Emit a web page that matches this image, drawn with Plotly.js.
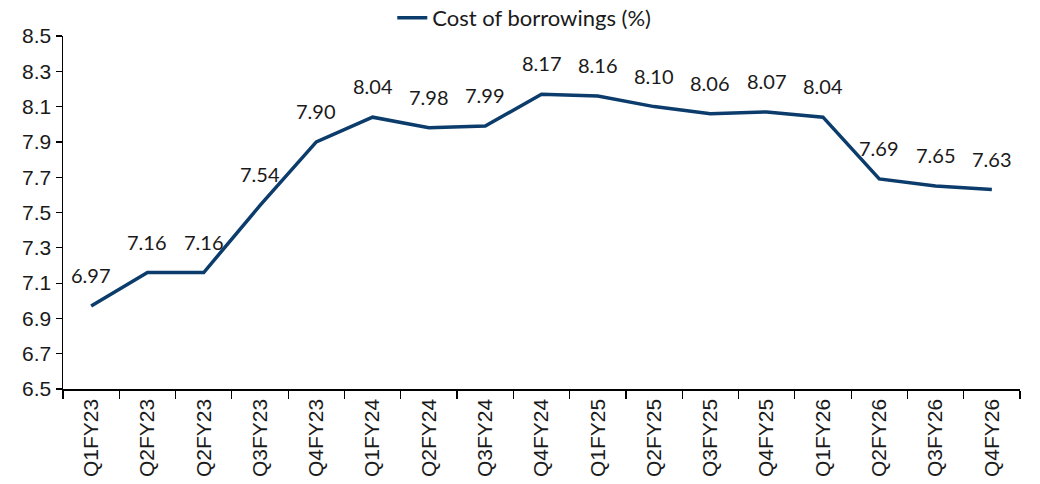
<!DOCTYPE html>
<html>
<head>
<meta charset="utf-8">
<script src="https://cdn.plot.ly/plotly-3.0.1.min.js"></script>
<style>html,body{margin:0;padding:0;background:#fff}#chart{width:1040px;height:484px}</style>
</head>
<body>
<div id="chart"></div>
<script>
const categories = ["Q1FY23","Q2FY23","Q2FY23","Q3FY23","Q4FY23","Q1FY24","Q2FY24","Q3FY24","Q4FY24","Q1FY25","Q2FY25","Q3FY25","Q4FY25","Q1FY26","Q2FY26","Q3FY26","Q4FY26"];
const costOfBorrowings = [6.97,7.16,7.16,7.54,7.90,8.04,7.98,7.99,8.17,8.16,8.10,8.06,8.07,8.04,7.69,7.65,7.63];
const seriesName = "Cost of borrowings (%)";
const yTicks = [6.5,6.7,6.9,7.1,7.3,7.5,7.7,7.9,8.1,8.3,8.5];

const idx = categories.map((_, i) => i);
const lineColor = "#0b3c6b";

const trace = {
  x: idx,
  y: costOfBorrowings,
  type: "scatter",
  mode: "lines",
  name: seriesName,
  line: {color: lineColor, width: 3.5},
  hoverinfo: "skip"
};

const annotations = costOfBorrowings.map((v, i) => ({
  x: i, y: v, xref: "x", yref: "y",
  text: v.toFixed(2), showarrow: false, yshift: 31,
  font: {family: "Lato, 'Noto Sans', sans-serif", size: 20, color: "#1a1a1a"}
}));

const layout = {
  width: 1040, height: 484,
  margin: {l: 63, r: 20, t: 36, b: 95, autoexpand: false},
  paper_bgcolor: "#fff", plot_bgcolor: "#fff",
  showlegend: true,
  legend: {
    orientation: "h", x: 0.482, xanchor: "center", xref: "paper",
    y: 1 - 18/484, yanchor: "middle", yref: "container",
    font: {family: "Lato, 'Noto Sans', sans-serif", size: 22, color: "#1a1a1a"},
    bgcolor: "rgba(0,0,0,0)"
  },
  xaxis: {
    range: [-0.5, categories.length - 0.5],
    tickmode: "array", tickvals: idx, ticktext: categories,
    tickangle: -90, ticks: "", automargin: false,
    showline: true, linecolor: "#000", linewidth: 1.5,
    showgrid: false, zeroline: false,
    tickfont: {family: "'Liberation Sans', Arial, sans-serif", size: 21, color: "#1a1a1a"},
    minor: {tick0: -0.5, dtick: 1, ticks: "outside", ticklen: 8, tickcolor: "#000", tickwidth: 1.2, showgrid: false}
  },
  yaxis: {
    range: [6.5, 8.5], automargin: false,
    tickmode: "array", tickvals: yTicks, ticktext: yTicks.map(t => t.toFixed(1)),
    ticks: "outside", ticklen: 6, tickcolor: "#000", tickwidth: 1.2,
    showline: true, linecolor: "#000", linewidth: 1.5,
    showgrid: false, zeroline: false,
    tickfont: {family: "'Liberation Sans', Arial, sans-serif", size: 21, color: "#1a1a1a"}
  },
  annotations: annotations
};

Plotly.newPlot("chart", [trace], layout, {displayModeBar: false, staticPlot: true});
</script>
</body>
</html>
